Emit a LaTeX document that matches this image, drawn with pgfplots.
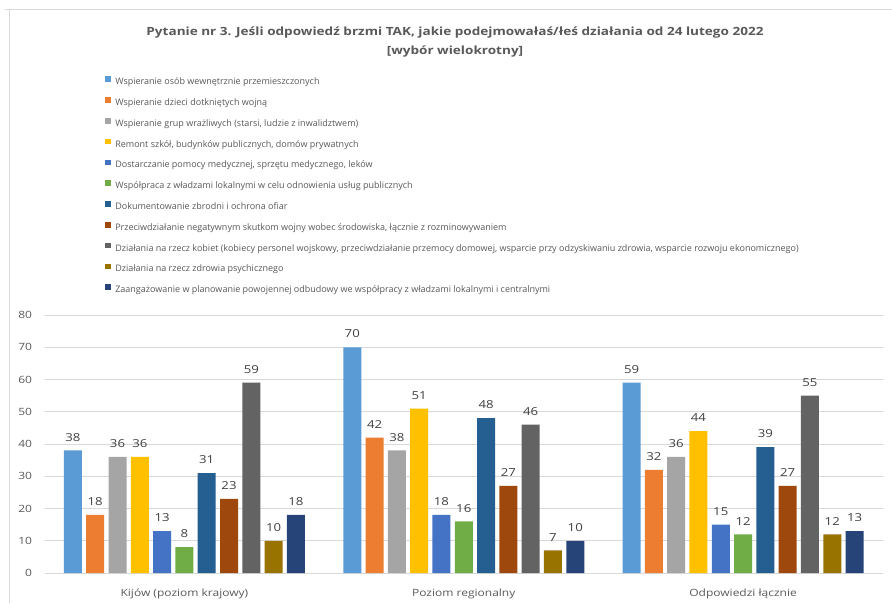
\documentclass[border=0pt]{standalone}
\usepackage{fontspec}
\setmainfont{Open Sans}
\newfontfamily\widefont[FakeStretch=1.2]{Open Sans}
\usepackage{pgfplots}
\pgfplotsset{compat=1.18}

\definecolor{cA}{HTML}{5B9BD5}
\definecolor{cB}{HTML}{ED7D31}
\definecolor{cC}{HTML}{A5A5A5}
\definecolor{cD}{HTML}{FFC000}
\definecolor{cE}{HTML}{4472C4}
\definecolor{cF}{HTML}{70AD47}
\definecolor{cG}{HTML}{255E91}
\definecolor{cH}{HTML}{9E480E}
\definecolor{cI}{HTML}{636363}
\definecolor{cJ}{HTML}{997300}
\definecolor{cK}{HTML}{264478}
\definecolor{gridgray}{HTML}{D9D9D9}
\definecolor{framegray}{HTML}{D9D9D9}
\definecolor{textgray}{HTML}{595959}
\definecolor{valgray}{HTML}{404040}

\begin{document}
\begin{tikzpicture}[x=1pt,y=1pt]
\useasboundingbox (0,0) rectangle (892,603);
\fill[white] (0,0) rectangle (892,603);
% chart frame
\draw[framegray, line width=1pt] (5,593) -- (892,593);
\draw[framegray, line width=1pt] (9,593) -- (9,0);
% title
\node[anchor=base, inner sep=0pt, text=textgray, font=\widefont\fontsize{11.3}{13}\selectfont\bfseries]
  at (455,567) {Pytanie nr 3. Jeśli odpowiedź brzmi TAK, jakie podejmowałaś/łeś działania od 24 lutego 2022};
\node[anchor=base, inner sep=0pt, text=textgray, font=\widefont\fontsize{11.3}{13}\selectfont\bfseries]
  at (455,548) {[wybór wielokrotny]};

\begin{axis}[
  at={(44.75pt,30pt)}, anchor=south west,
  scale only axis, width=838pt, height=258pt,
  xmin=-0.5, xmax=2.5, ymin=0, ymax=80,
  ytick={0,10,...,80},
  xtick={0,1,2},
  xticklabels={Kijów (poziom krajowy), Poziom regionalny, Odpowiedzi łącznie},
  ybar=4.3pt, bar width=18pt,
  ymajorgrids, xmajorgrids=false,
  major grid style={draw=gridgray, line width=0.9pt},
  axis line style={draw=none}, tick style={draw=none},
  /pgf/number format/assume math mode=true,
  yticklabel style={anchor=east, inner sep=0pt, xshift=-12.5pt, text=textgray,
    font=\widefont\fontsize{10}{12}\selectfont},
  xticklabel style={anchor=base, inner sep=0pt, yshift=-19pt, text=textgray,
    font=\widefont\fontsize{10}{12}\selectfont},
  nodes near coords,
  every node near coord/.append style={anchor=south, inner sep=0pt, yshift=9pt,
    text=valgray, font=\widefont\fontsize{11}{13}\selectfont},
  every axis plot/.append style={draw=none},
  legend image code/.code={\fill[#1] (0pt,0.3pt) rectangle (5.6pt,5.9pt);},
  legend cell align=left,
  legend style={at={(0.0719,1.926)}, anchor=north west, draw=none, fill=none,
    inner sep=0pt, row sep=10.4pt,
    nodes={inner xsep=4.5pt, inner ysep=0pt, text height=7pt, text depth=2pt,
      text=textgray, font=\fontsize{9}{11}\selectfont}},
]
\addplot[fill=cA] coordinates {(0,38) (1,70) (2,59)};
\addlegendentry{Wspieranie osób wewnętrznie przemieszczonych}
\addplot[fill=cB] coordinates {(0,18) (1,42) (2,32)};
\addlegendentry{Wspieranie dzieci dotkniętych wojną}
\addplot[fill=cC] coordinates {(0,36) (1,38) (2,36)};
\addlegendentry{Wspieranie grup wrażliwych (starsi, ludzie z inwalidztwem)}
\addplot[fill=cD] coordinates {(0,36) (1,51) (2,44)};
\addlegendentry{Remont szkół, budynków publicznych, domów prywatnych}
\addplot[fill=cE] coordinates {(0,13) (1,18) (2,15)};
\addlegendentry{Dostarczanie pomocy medycznej, sprzętu medycznego, leków}
\addplot[fill=cF] coordinates {(0,8) (1,16) (2,12)};
\addlegendentry{Współpraca z władzami lokalnymi w celu odnowienia usług publicznych}
\addplot[fill=cG] coordinates {(0,31) (1,48) (2,39)};
\addlegendentry{Dokumentowanie zbrodni i ochrona ofiar}
\addplot[fill=cH] coordinates {(0,23) (1,27) (2,27)};
\addlegendentry{Przeciwdziałanie negatywnym skutkom wojny wobec środowiska, łącznie z rozminowywaniem}
\addplot[fill=cI] coordinates {(0,59) (1,46) (2,55)};
\addlegendentry{Działania na rzecz kobiet (kobiecy personel wojskowy, przeciwdziałanie przemocy domowej, wsparcie przy odzyskiwaniu zdrowia, wsparcie rozwoju ekonomicznego)}
\addplot[fill=cJ] coordinates {(0,10) (1,7) (2,12)};
\addlegendentry{Działania na rzecz zdrowia psychicznego}
\addplot[fill=cK] coordinates {(0,18) (1,10) (2,13)};
\addlegendentry{Zaangażowanie w planowanie powojennej odbudowy we współpracy z władzami lokalnymi i centralnymi}
\end{axis}
\end{tikzpicture}
\end{document}
